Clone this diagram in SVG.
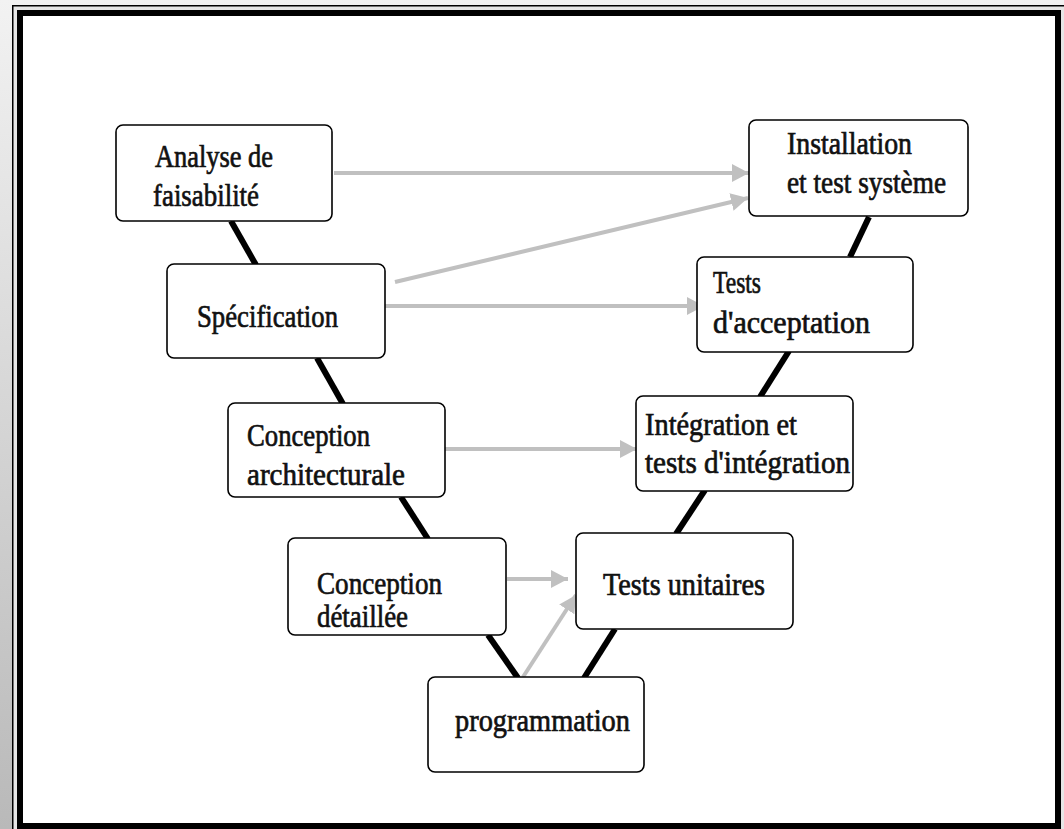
<svg xmlns="http://www.w3.org/2000/svg" width="1064" height="829" viewBox="0 0 1064 829">
  <defs>
    <linearGradient id="bg" x1="0" y1="0" x2="0" y2="1">
      <stop offset="0" stop-color="#f2f2f2"/>
      <stop offset="1" stop-color="#b9b9b9"/>
    </linearGradient>
    <marker id="grayHead" markerUnits="userSpaceOnUse" markerWidth="20" markerHeight="20" refX="17" refY="9" orient="auto">
      <path d="M0,0 L17,9 L0,18 Z" fill="#c0c0c0"/>
    </marker>
    <style>
      .node rect { fill: #ffffff; stroke: #000000; stroke-width: 1.6; }
      .node text { font-family: "Liberation Serif", "Times New Roman", serif; font-size: 32px; fill: #111111; stroke: #111111; stroke-width: 0.7; }
      .link { stroke: #000000; stroke-width: 6; fill: none; }
      .flow { stroke: #c0c0c0; stroke-width: 4; fill: none; marker-end: url(#grayHead); }
    </style>
  </defs>

  <!-- frame -->
  <rect x="0" y="0" width="1064" height="829" fill="url(#bg)"/>
  <rect x="12.75" y="5.75" width="1060" height="840" fill="#e6e6e6" stroke="#000" stroke-width="1.5"/>
  <rect x="20" y="13" width="1038" height="813" fill="#ffffff" stroke="#000" stroke-width="6"/>

  <!-- connectors -->
  <g id="connectors">
    <line class="link" x1="231" y1="221" x2="256" y2="265"/>
    <line class="link" x1="317" y1="358" x2="343" y2="404"/>
    <line class="link" x1="401" y1="497" x2="428" y2="539"/>
    <line class="link" x1="488" y1="635" x2="518" y2="678"/>
    <line class="link" x1="584" y1="678" x2="615" y2="629"/>
    <line class="link" x1="676" y1="534" x2="705" y2="490"/>
    <line class="link" x1="760" y1="397" x2="789" y2="351"/>
    <line class="link" x1="850" y1="257" x2="869" y2="217"/>

    <line class="flow" x1="334" y1="173" x2="749" y2="173"/>
    <line class="flow" x1="395" y1="282" x2="748" y2="198"/>
    <line class="flow" x1="385" y1="306" x2="704" y2="306"/>
    <line class="flow" x1="445" y1="449" x2="637" y2="449"/>
    <line class="flow" x1="507" y1="579" x2="568" y2="579"/>
    <line class="flow" x1="523" y1="677" x2="576" y2="595"/>
  </g>

  <g id="analyse" class="node">
    <rect x="116" y="125" width="216" height="96" rx="7"/>
    <text x="155" y="167" textLength="118" lengthAdjust="spacingAndGlyphs">Analyse de</text>
    <text x="153" y="206" textLength="106" lengthAdjust="spacingAndGlyphs">faisabilité</text>
  </g>

  <g id="specification" class="node">
    <rect x="167" y="264" width="218" height="94" rx="7"/>
    <text x="197" y="327" textLength="141" lengthAdjust="spacingAndGlyphs">Spécification</text>
  </g>

  <g id="conception-architecturale" class="node">
    <rect x="228" y="403" width="217" height="94" rx="7"/>
    <text x="247" y="446" textLength="123" lengthAdjust="spacingAndGlyphs">Conception</text>
    <text x="247" y="485" textLength="158" lengthAdjust="spacingAndGlyphs">architecturale</text>
  </g>

  <g id="conception-detaillee" class="node">
    <rect x="288" y="538" width="218" height="97" rx="7"/>
    <text x="317" y="594" textLength="125" lengthAdjust="spacingAndGlyphs">Conception</text>
    <text x="317" y="627" textLength="91" lengthAdjust="spacingAndGlyphs">détaillée</text>
  </g>

  <g id="programmation" class="node">
    <rect x="428" y="677" width="216" height="95" rx="7"/>
    <text x="455" y="731" textLength="175" lengthAdjust="spacingAndGlyphs">programmation</text>
  </g>

  <g id="tests-unitaires" class="node">
    <rect x="576" y="533" width="217" height="96" rx="7"/>
    <text x="603" y="595" textLength="162" lengthAdjust="spacingAndGlyphs">Tests unitaires</text>
  </g>

  <g id="integration" class="node">
    <rect x="636" y="396" width="217" height="95" rx="7"/>
    <text x="645" y="435" textLength="152" lengthAdjust="spacingAndGlyphs">Intégration et</text>
    <text x="645" y="473" textLength="205" lengthAdjust="spacingAndGlyphs">tests d'intégration</text>
  </g>

  <g id="tests-acceptation" class="node">
    <rect x="697" y="257" width="216" height="95" rx="7"/>
    <text x="713" y="293" textLength="48" lengthAdjust="spacingAndGlyphs">Tests</text>
    <text x="713" y="333" textLength="157" lengthAdjust="spacingAndGlyphs">d'acceptation</text>
  </g>

  <g id="installation" class="node">
    <rect x="749" y="120" width="219" height="96" rx="7"/>
    <text x="787" y="154" textLength="125" lengthAdjust="spacingAndGlyphs">Installation</text>
    <text x="787" y="193" textLength="159" lengthAdjust="spacingAndGlyphs">et test système</text>
  </g>
</svg>
